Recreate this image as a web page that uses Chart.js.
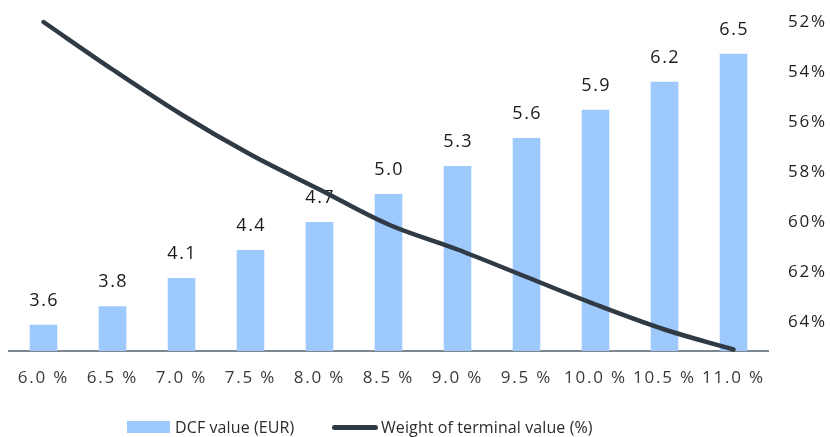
<!DOCTYPE html>
<html>
<head>
<meta charset="utf-8">
<script src="https://cdn.jsdelivr.net/npm/chart.js@4/dist/chart.umd.min.js"></script>
<style>
  html, body { margin: 0; padding: 0; background: #fff; }
  #wrap { position: relative; width: 830px; height: 437px; font-family: 'Open Sans', sans-serif; }
  canvas { position: absolute; left: 0; top: 0; }
  .lg { position: absolute; top: 416px; height: 22px; display: flex; align-items: center; font-size: 16px; color: #2b2b2b; letter-spacing: 0.1px; white-space: nowrap; }
  .sw-bar { width: 43px; height: 12px; background: #9dc9fc; margin-right: 5px; }
  .sw-line { width: 46px; height: 5px; border-radius: 3px; background: #2f3a45; margin-right: 3px; }
</style>
</head>
<body>
<div id="wrap">
  <canvas id="c" width="830" height="437"></canvas>
  <div class="lg" style="left:127px"><span class="sw-bar"></span>DCF value (EUR)</div>
  <div class="lg" style="left:332px"><span class="sw-line"></span>Weight of terminal value (%)</div>
</div>
<script>
// WACC scenarios on the category axis
const categories = ['6.0 %', '6.5 %', '7.0 %', '7.5 %', '8.0 %', '8.5 %', '9.0 %', '9.5 %', '10.0 %', '10.5 %', '11.0 %'];
// DCF value per share (EUR)
const dcfValues = [3.6, 3.8, 4.1, 4.4, 4.7, 5.0, 5.3, 5.6, 5.9, 6.2, 6.5];
// Share of terminal value in the DCF (%)
const terminalWeight = [52.0, 53.9, 55.7, 57.3, 58.7, 60.1, 61.1, 62.2, 63.3, 64.3, 65.1];
// Right axis tick marks (%)
const weightTicks = [52, 54, 56, 58, 60, 62, 64];

Chart.defaults.font.family = "'Open Sans', sans-serif";

// Slightly wider tracking for the axis text
const tracking = {
  id: 'tracking',
  beforeDraw(chart) {
    if ('letterSpacing' in chart.ctx) chart.ctx.letterSpacing = '1.8px';
  }
};

// Value labels above the bars, drawn before the line so the line passes over them
const barLabels = {
  id: 'barLabels',
  afterDatasetDraw(chart, args) {
    if (args.index !== 0) return;
    const ctx = chart.ctx;
    ctx.save();
    if ('letterSpacing' in ctx) ctx.letterSpacing = '1.5px';
    ctx.font = "18px 'Open Sans', sans-serif";
    ctx.fillStyle = '#1a1a1a';
    ctx.textAlign = 'center';
    ctx.textBaseline = 'alphabetic';
    args.meta.data.forEach((bar, i) => {
      ctx.fillText(dcfValues[i].toFixed(1), bar.x + 0.75, bar.y - 19);
    });
    ctx.restore();
  }
};

new Chart(document.getElementById('c'), {
  data: {
    labels: categories,
    datasets: [
      {
        type: 'bar',
        label: 'DCF value (EUR)',
        data: dcfValues,
        yAxisID: 'y',
        backgroundColor: '#9dc9fc',
        barPercentage: 0.4,
        categoryPercentage: 1.0,
        order: 1
      },
      {
        type: 'line',
        label: 'Weight of terminal value (%)',
        data: terminalWeight,
        yAxisID: 'y2',
        borderColor: '#2f3a45',
        borderWidth: 4.5,
        borderCapStyle: 'round',
        borderJoinStyle: 'round',
        pointRadius: 0,
        tension: 0.35,
        fill: false,
        clip: false,
        order: 0
      }
    ]
  },
  options: {
    responsive: false,
    animation: false,
    layout: { padding: { left: 9, right: 0, top: 22, bottom: 50 } },
    plugins: {
      legend: { display: false },
      tooltip: { enabled: false }
    },
    scales: {
      x: {
        offset: true,
        grid: { display: false, drawTicks: false },
        border: { display: true, color: '#7e868e', width: 2 },
        ticks: { color: '#3a3a3a', font: { size: 17 }, padding: 17, maxRotation: 0, autoSkip: false },
        afterFit(scale) { scale.height = 36; }
      },
      y: {
        display: false,
        min: 3.32,
        max: 6.84
      },
      y2: {
        position: 'right',
        reverse: true,
        min: 52,
        max: 65.16,
        grid: { display: false, drawTicks: false },
        border: { display: false },
        afterBuildTicks(scale) { scale.ticks = weightTicks.map(v => ({ value: v })); },
        ticks: {
          color: '#1e1e1e',
          font: { size: 17 },
          padding: 20,
          callback: v => v + '%'
        },
        afterFit(scale) {
          scale.width = 62;
          scale.paddingTop = 0;
          scale.paddingBottom = 0;
        }
      }
    }
  },
  plugins: [tracking, barLabels]
});
</script>
</body>
</html>
